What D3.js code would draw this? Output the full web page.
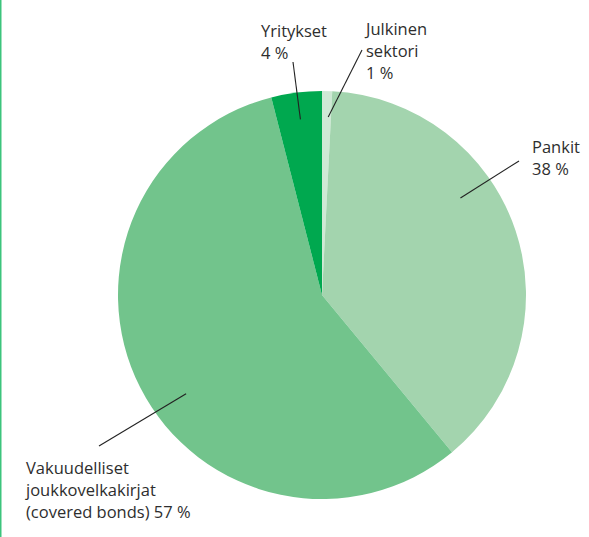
<!DOCTYPE html>
<html>
<head>
<meta charset="utf-8">
<script src="https://cdn.jsdelivr.net/npm/d3@7"></script>
<style>
  body { margin: 0; background: #fff; }
  svg { display: block; }
  .lbl { font-family: "Open Sans", sans-serif; font-size: 16.5px; fill: #2e2e2e; }
</style>
</head>
<body>
<div id="chart"></div>
<script>
// data
const sectors = ["Julkinen sektori", "Pankit", "Vakuudelliset joukkovelkakirjat (covered bonds)", "Yritykset"];
const shares = [0.8, 38.2, 57, 4];
const labelLines = [
  ["Julkinen", "sektori", "1 %"],
  ["Pankit", "38 %"],
  ["Vakuudelliset", "joukkovelkakirjat", "(covered bonds) 57 %"],
  ["Yritykset", "4 %"]
];
const colors = ["#cfe9d5", "#a3d4ae", "#72c48c", "#00a84f"];

// label layout: leader start (angle in deg, radius), leader end and text origin in px
const layout = [
  { ang: 2,   r: 178, end: [362, 50],  tx: 366, ty: 35 },
  { ang: 55,  r: 169, end: [519, 161], tx: 532, ty: 153 },
  { ang: 234, r: 168, end: [99, 446],  tx: 26,  ty: 474 },
  { ang: -7,  r: 177, end: [293, 62],  tx: 261, ty: 37 }
];

const width = 589, height = 537;
const cx = 322, cy = 295, radius = 204;
const lineH = 22;

const svg = d3.select("#chart").append("svg")
  .attr("width", width)
  .attr("height", height);

// left green rule
svg.append("rect")
  .attr("x", 0).attr("y", 0)
  .attr("width", 1.5).attr("height", height)
  .attr("fill", "#3cc47c");

const pieFn = d3.pie().sort(null).value(d => d);
const arcFn = d3.arc().innerRadius(0).outerRadius(radius);

const pieG = svg.append("g").attr("transform", `translate(${cx},${cy})`);

pieG.selectAll("path")
  .data(pieFn(shares))
  .join("path")
  .attr("d", arcFn)
  .attr("fill", (d, i) => colors[i]);

// leader lines + labels
layout.forEach((l, i) => {
  let a = l.ang * Math.PI / 180;
  let x0 = cx + l.r * Math.sin(a), y0 = cy - l.r * Math.cos(a);
  svg.append("line")
    .attr("x1", x0).attr("y1", y0)
    .attr("x2", l.end[0]).attr("y2", l.end[1])
    .attr("stroke", "#222")
    .attr("stroke-width", 1.1);

  let t = svg.append("text")
    .attr("class", "lbl")
    .attr("x", l.tx).attr("y", l.ty);
  labelLines[i].forEach((s, j) => {
    t.append("tspan")
      .attr("x", l.tx)
      .attr("y", l.ty + j * lineH)
      .text(s);
  });
});
</script>
</body>
</html>
